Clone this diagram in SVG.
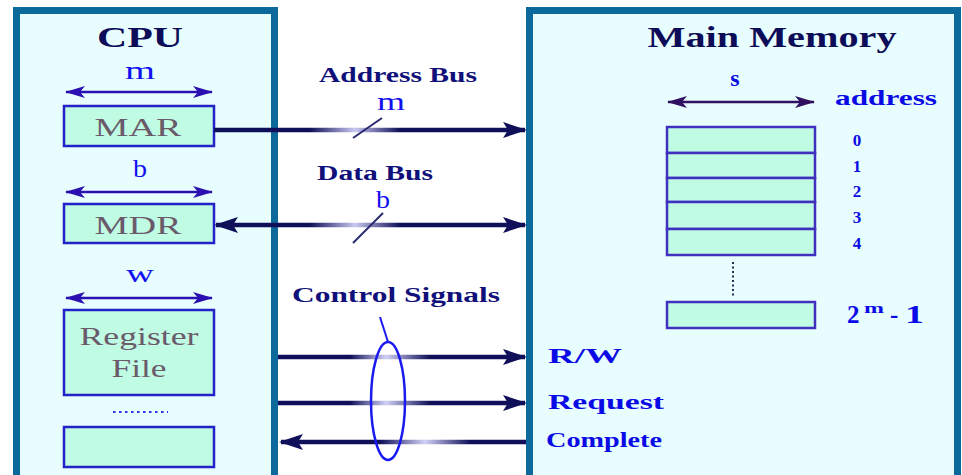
<svg xmlns="http://www.w3.org/2000/svg" width="962" height="475" viewBox="0 0 962 475">
  <style>
    .unit { fill: #e8fdfd; stroke: #0b6a9b; stroke-width: 7; }
    .reg { fill: #c0fbe4; stroke: #2222c8; stroke-width: 2.5; }
    .cell { fill: #c0fbe4; stroke: #4030c0; stroke-width: 2.5; }
    .title { font-family: "Liberation Serif", serif; font-weight: bold; fill: #0c0c58; }
    .regtext { font-family: "Liberation Serif", serif; fill: #6a5a6a; }
    .dim { font-family: "Liberation Serif", serif; fill: #1010f0; }
    .bus { font-family: "Liberation Serif", serif; font-weight: bold; fill: #10107a; }
    .sig { font-family: "Liberation Serif", serif; font-weight: bold; fill: #0a0ae6; }
    .width { stroke: #2a10b0; stroke-width: 2.5; fill: none; }
    .wire { stroke-width: 4.5; fill: none; }
    .slash { stroke: #2a2a70; stroke-width: 2; }
  </style>
  <defs>
    <marker id="bigHead" viewBox="0 0 24 16" refX="22" refY="8" markerWidth="24" markerHeight="16" markerUnits="userSpaceOnUse" orient="auto-start-reverse">
      <path d="M0,0 L24,8 L0,16 L5,8 Z" fill="#10105a"/>
    </marker>
    <marker id="smallHead" viewBox="0 0 20 12" refX="19" refY="6" markerWidth="20" markerHeight="12" markerUnits="userSpaceOnUse" orient="auto-start-reverse">
      <path d="M0,0 L20,6 L0,12 L5,6 Z" fill="#2a10b0"/>
    </marker>
    <marker id="memHead" viewBox="0 0 20 12" refX="19" refY="6" markerWidth="20" markerHeight="12" markerUnits="userSpaceOnUse" orient="auto-start-reverse">
      <path d="M0,0 L20,6 L0,12 L5,6 Z" fill="#301060"/>
    </marker>
    <linearGradient id="gAddr" gradientUnits="userSpaceOnUse" x1="310" y1="0" x2="400" y2="0">
      <stop offset="0" stop-color="#10105a"/>
      <stop offset="0.5" stop-color="#c8c8f0"/>
      <stop offset="1" stop-color="#10105a"/>
    </linearGradient>
    <linearGradient id="gData" gradientUnits="userSpaceOnUse" x1="310" y1="0" x2="400" y2="0">
      <stop offset="0" stop-color="#10105a"/>
      <stop offset="0.5" stop-color="#c8c8f0"/>
      <stop offset="1" stop-color="#10105a"/>
    </linearGradient>
    <linearGradient id="gCtl" gradientUnits="userSpaceOnUse" x1="350" y1="0" x2="430" y2="0">
      <stop offset="0" stop-color="#10105a"/>
      <stop offset="0.45" stop-color="#d0d0f4"/>
      <stop offset="1" stop-color="#10105a"/>
    </linearGradient>
    <linearGradient id="gDone" gradientUnits="userSpaceOnUse" x1="380" y1="0" x2="470" y2="0">
      <stop offset="0" stop-color="#10105a"/>
      <stop offset="0.5" stop-color="#d0d0f4"/>
      <stop offset="1" stop-color="#10105a"/>
    </linearGradient>
  </defs>

  <rect x="0" y="0" width="962" height="475" fill="#ffffff"/>

  <!-- CPU -->
  <g id="cpu">
    <rect class="unit" x="16.5" y="10.5" width="258" height="480"/>
    <text class="title" x="140" y="47" font-size="30" text-anchor="middle" textLength="86" lengthAdjust="spacingAndGlyphs">CPU</text>
  </g>

  <g id="mar">
    <text class="dim" x="140" y="79" font-size="26" text-anchor="middle" textLength="30" lengthAdjust="spacingAndGlyphs">m</text>
    <line class="width" x1="66" y1="92" x2="212" y2="92" marker-start="url(#smallHead)" marker-end="url(#smallHead)"/>
    <rect class="reg" x="64" y="106" width="150" height="40"/>
    <text class="regtext" x="138" y="136" font-size="26" text-anchor="middle" textLength="87" lengthAdjust="spacingAndGlyphs">MAR</text>
  </g>

  <g id="mdr">
    <text class="dim" x="140" y="177" font-size="26" text-anchor="middle" textLength="14" lengthAdjust="spacingAndGlyphs">b</text>
    <line class="width" x1="66" y1="192" x2="212" y2="192" marker-start="url(#smallHead)" marker-end="url(#smallHead)"/>
    <rect class="reg" x="64" y="204" width="150" height="39"/>
    <text class="regtext" x="138" y="234" font-size="26" text-anchor="middle" textLength="87" lengthAdjust="spacingAndGlyphs">MDR</text>
  </g>

  <g id="register-file">
    <text class="dim" x="140" y="282" font-size="26" text-anchor="middle" textLength="28" lengthAdjust="spacingAndGlyphs">w</text>
    <line class="width" x1="66" y1="298" x2="212" y2="298" marker-start="url(#smallHead)" marker-end="url(#smallHead)"/>
    <rect class="reg" x="64" y="310" width="150" height="85"/>
    <text class="regtext" x="139" y="345" font-size="26" text-anchor="middle" textLength="119" lengthAdjust="spacingAndGlyphs">Register</text>
    <text class="regtext" x="139" y="377" font-size="26" text-anchor="middle" textLength="55" lengthAdjust="spacingAndGlyphs">File</text>
    <line x1="113" y1="412" x2="168" y2="412" stroke="#3030f0" stroke-width="2" stroke-dasharray="2.5 3.5"/>
  </g>

  <g id="spare-register">
    <rect class="reg" x="64" y="427" width="150" height="40" fill="#cbfdea"/>
  </g>

  <!-- Main memory -->
  <g id="main-memory">
    <rect class="unit" x="529.5" y="10.5" width="428" height="480"/>
    <text class="title" x="772" y="47" font-size="30" text-anchor="middle" textLength="249" lengthAdjust="spacingAndGlyphs">Main Memory</text>
    <text class="sig" x="735" y="86" font-size="24" text-anchor="middle">s</text>
    <line x1="668" y1="102" x2="814" y2="102" stroke="#301060" stroke-width="2.5" marker-start="url(#memHead)" marker-end="url(#memHead)"/>
    <text class="sig" x="835" y="105" font-size="22" textLength="102" lengthAdjust="spacingAndGlyphs">address</text>
  </g>

  <g id="memory-words">
    <rect class="cell" x="667" y="127" width="148" height="26"/>
    <rect class="cell" x="667" y="153" width="148" height="25"/>
    <rect class="cell" x="667" y="178" width="148" height="24"/>
    <rect class="cell" x="667" y="202" width="148" height="27"/>
    <rect class="cell" x="667" y="229" width="148" height="26"/>
    <text class="sig" x="857" y="146" font-size="17" text-anchor="middle">0</text>
    <text class="sig" x="857" y="172" font-size="17" text-anchor="middle">1</text>
    <text class="sig" x="857" y="197" font-size="17" text-anchor="middle">2</text>
    <text class="sig" x="857" y="223" font-size="17" text-anchor="middle">3</text>
    <text class="sig" x="857" y="249" font-size="17" text-anchor="middle">4</text>
    <line x1="733" y1="262" x2="733" y2="296" stroke="#203050" stroke-width="2" stroke-dasharray="2 2.5"/>
  </g>

  <g id="last-word">
    <rect class="cell" x="667" y="302" width="148" height="26" stroke="#1a1ad0"/>
    <text class="sig" font-size="25"><tspan x="847" y="323">2</tspan><tspan x="864" y="313" font-size="15" textLength="20" lengthAdjust="spacingAndGlyphs">m</tspan><tspan x="890" y="323">-</tspan><tspan x="905" y="323" textLength="19" lengthAdjust="spacingAndGlyphs">1</tspan></text>
  </g>

  <!-- Buses and control lines -->
  <g id="connectors">
    <line class="wire" x1="214" y1="130" x2="525" y2="130" stroke="url(#gAddr)" marker-end="url(#bigHead)"/>
    <line class="slash" x1="353" y1="138" x2="382" y2="118"/>
    <line class="wire" x1="216" y1="225" x2="525" y2="225" stroke="url(#gData)" marker-start="url(#bigHead)" marker-end="url(#bigHead)"/>
    <line class="slash" x1="353" y1="243" x2="383" y2="213"/>
    <line class="wire" x1="278" y1="357" x2="525" y2="357" stroke="url(#gCtl)" marker-end="url(#bigHead)"/>
    <line class="wire" x1="278" y1="403" x2="525" y2="403" stroke="url(#gCtl)" marker-end="url(#bigHead)"/>
    <line class="wire" x1="281" y1="442" x2="526" y2="442" stroke="url(#gDone)" marker-start="url(#bigHead)"/>
    <ellipse cx="388" cy="401" rx="17" ry="59" fill="none" stroke="#1a1af0" stroke-width="2.5"/>
    <line x1="380" y1="317" x2="388" y2="342" stroke="#1a1af0" stroke-width="2"/>
  </g>

  <g id="labels">
    <text class="bus" x="398" y="82" font-size="20" text-anchor="middle" textLength="158" lengthAdjust="spacingAndGlyphs">Address Bus</text>
    <text class="dim" x="391" y="110" font-size="26" text-anchor="middle" textLength="28" lengthAdjust="spacingAndGlyphs">m</text>
    <text class="bus" x="375" y="180" font-size="20" text-anchor="middle" textLength="116" lengthAdjust="spacingAndGlyphs">Data Bus</text>
    <text class="dim" x="383" y="208" font-size="26" text-anchor="middle" textLength="14" lengthAdjust="spacingAndGlyphs">b</text>
    <text class="bus" x="396" y="302" font-size="21" text-anchor="middle" textLength="208" lengthAdjust="spacingAndGlyphs">Control Signals</text>
    <text class="sig" x="548" y="363" font-size="21" textLength="74" lengthAdjust="spacingAndGlyphs">R/W</text>
    <text class="sig" x="548" y="409" font-size="21" textLength="116" lengthAdjust="spacingAndGlyphs">Request</text>
    <text class="sig" x="546" y="447" font-size="21" textLength="116" lengthAdjust="spacingAndGlyphs">Complete</text>
  </g>
</svg>
